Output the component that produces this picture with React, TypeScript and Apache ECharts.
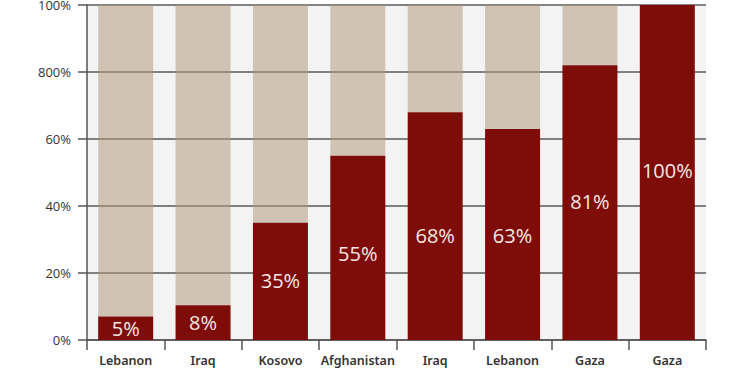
import React, { useEffect, useRef } from "react";
import * as echarts from "echarts";

const categories = ["Lebanon", "Iraq", "Kosovo", "Afghanistan", "Iraq", "Lebanon", "Gaza", "Gaza"];
const years = ["1982", "1991", "1999", "2001", "2003", "2006", "2009", "2024"];
const shareValues = [7, 10.4, 35, 55, 68, 63, 82, 100];
const shareLabels = ["5%", "8%", "35%", "55%", "68%", "63%", "81%", "100%"];
const yTickValues = [0, 20, 40, 60, 80, 100];
const yTickLabels = ["0%", "20%", "40%", "60%", "800%", "100%"];

export default function App() {
  const ref = useRef<HTMLDivElement>(null);
  useEffect(() => {
    document.body.style.margin = "0";
    if (!ref.current) return;
    const chart = echarts.init(ref.current, null, { renderer: "svg" });
    const labelShift = [0, 0, -1, 6, 9, 1, -1, -2];
    const redData = shareValues.map((v, i) => ({
      value: v,
      label: { offset: [0, labelShift[i]] },
    }));
    const rest = shareValues.map((v) => Math.max(0, 100 - v));
    chart.setOption({
      animation: false,
      backgroundColor: "#ffffff",
      grid: {
        left: 87,
        right: 44,
        top: 5,
        bottom: 35,
        outerBoundsMode: "none",
        containLabel: false,
        show: true,
        backgroundColor: "#f3f3f4",
        borderWidth: 0,
      },
      xAxis: {
        type: "category",
        data: categories.map((c, i) => c + "\n" + years[i]),
        axisLine: { show: true, lineStyle: { color: "#555", width: 1.5 } },
        axisTick: { show: true, length: 10, lineStyle: { color: "#555", width: 1.5 } },
        axisLabel: {
          interval: 0,
          color: "#333",
          fontFamily: "Noto Sans",
          fontWeight: 600,
          fontSize: 12.5,
          lineHeight: 19,
          margin: 11,
        },
      },
      yAxis: {
        type: "value",
        min: 0,
        max: 100,
        interval: 20,
        axisLine: { show: true, lineStyle: { color: "#555", width: 1.5 } },
        axisTick: { show: true, length: 9, lineStyle: { color: "#555", width: 1.5 } },
        splitLine: { show: true, lineStyle: { color: "#5a5a5a", width: 1.5 } },
        axisLabel: {
          color: "#333",
          fontFamily: "Open Sans",
          fontSize: 13,
          margin: 16,
          formatter: (v: number) => {
            const i = yTickValues.indexOf(v);
            return i >= 0 ? yTickLabels[i] : "";
          },
        },
      },
      series: [
        {
          type: "bar",
          stack: "total",
          data: redData,
          barWidth: 55,
          itemStyle: { color: "#7e0c08" },
          z: 3,
          label: {
            show: true,
            position: "inside",
            color: "#f6e8e3",
            fontFamily: "Open Sans",
            fontSize: 20,
            formatter: (p: any) => shareLabels[p.dataIndex],
          },
        },
        {
          type: "bar",
          stack: "total",
          data: rest,
          barWidth: 55,
          itemStyle: { color: "rgba(176,151,118,0.52)" },
          z: 2,
        },
      ],
    });
    return () => chart.dispose();
  }, []);
  return <div ref={ref} style={{ width: 750, height: 375 }} />;
}
